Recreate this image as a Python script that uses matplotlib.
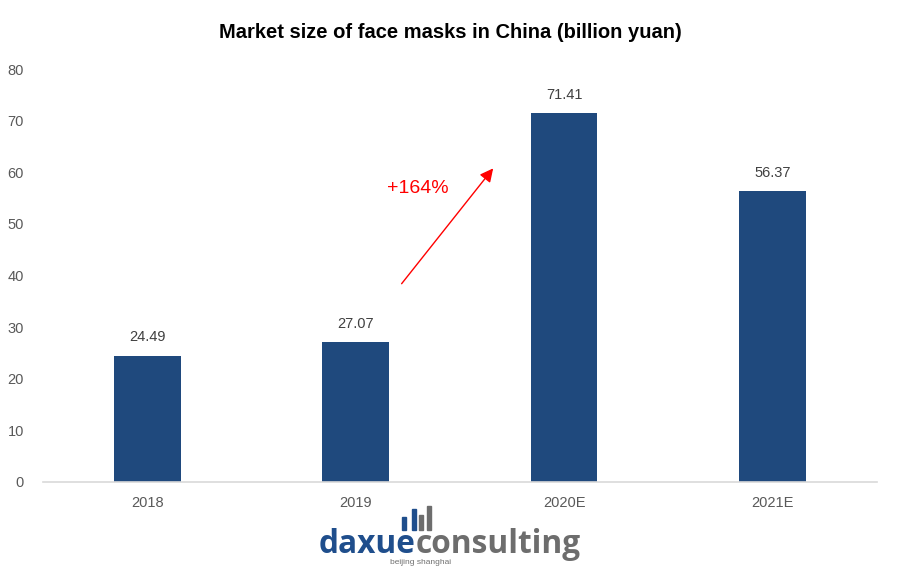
import matplotlib.pyplot as plt

years = ['2018', '2019', '2020E', '2021E']
values = [24.49, 27.07, 71.41, 56.37]
yticks = [0, 10, 20, 30, 40, 50, 60, 70, 80]

plt.rcParams['font.family'] = ['Liberation Sans', 'DejaVu Sans']

bar_color = '#1f497d'
text_color = '#595959'

fig = plt.figure(figsize=(9, 5.67), dpi=100)
ax = fig.add_axes([0.048, 0.150, 0.926, 0.728])

x = range(len(years))
ax.bar(x, values, width=0.32, color=bar_color)
for i, v in zip(x, values):
    ax.text(i, v + 2.2, f'{v:.2f}', ha='center', va='bottom', fontsize=10.5, color='#404040')

ax.set_xlim(-0.5, 3.5)
ax.set_ylim(0, 80)
ax.set_yticks(yticks)
ax.set_xticks(list(x))
ax.set_xticklabels(years)
ax.tick_params(length=0, labelsize=10.5, colors=text_color)
ax.tick_params(axis='y', pad=14)
ax.tick_params(axis='x', pad=10)
for s in ['top', 'right', 'left']:
    ax.spines[s].set_visible(False)
ax.spines['bottom'].set_color('#d9d9d9')
ax.spines['bottom'].set_linewidth(1.2)

# growth arrow
ax.annotate('', xy=(1.668, 61.2), xytext=(1.212, 38.0),
            arrowprops=dict(arrowstyle='-|>', color='red', lw=1, mutation_scale=20))
ax.text(1.30, 56.9, '+164%', color='red', fontsize=14, ha='center', va='center')

fig.text(0.5, 0.942, 'Market size of face masks in China (billion yuan)',
         ha='center', va='center', fontsize=14.5, fontweight='bold')

# logo: daxue (blue) + consulting (grey), fitted to ~262 px
logo_font = ['Open Sans', 'Liberation Sans']
renderer = fig.canvas.get_renderer()
probe = fig.text(0, 0, 'daxueconsulting', fontsize=20, fontweight='bold', family=logo_font)
w = probe.get_window_extent(renderer).width
probe.remove()
fs = 20 * 262 / w
base_y = 1 - 553 / 567
t1 = fig.text(319 / 900, base_y, 'daxue', color='#1f4e8c', fontsize=fs, fontweight='bold',
              family=logo_font, ha='left', va='baseline')
w1 = t1.get_window_extent(renderer).width
fig.text((319 + w1) / 900, base_y, 'consulting', color='#6d6d6d', fontsize=fs, fontweight='bold',
         family=logo_font, ha='left', va='baseline')
fig.text(421 / 900, 1 - 563 / 567, 'beijing shanghai', color='#707070', fontsize=6,
         ha='center', va='center')
icon_x = [402, 412, 419, 427]
icon_top = [517, 509, 515, 506]
icon_col = ['#1f4e8c', '#1f4e8c', '#6d6d6d', '#6d6d6d']
for bx, top, c in zip(icon_x, icon_top, icon_col):
    fig.patches.append(plt.Rectangle((bx / 900, 1 - 530 / 567), 4 / 900, (530 - top) / 567,
                                     transform=fig.transFigure, color=c))

fig.savefig('out.png', dpi=100)
